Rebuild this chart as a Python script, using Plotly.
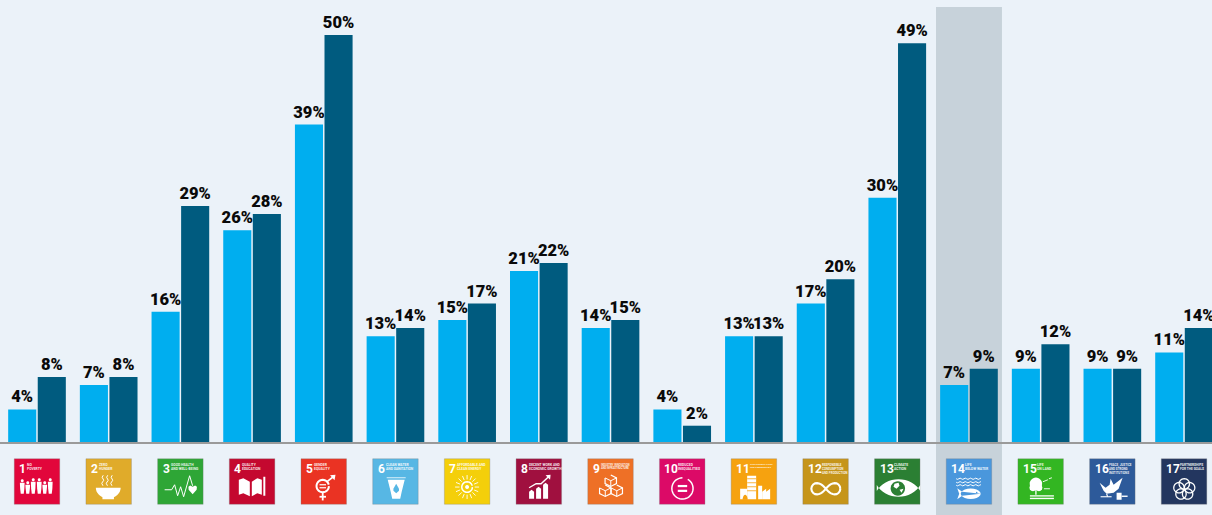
import math
import plotly.graph_objects as go

# Share of respondents per Sustainable Development Goal, two survey waves
goal_numbers = list(range(1, 18))
earlier_wave = [4, 7, 16, 26, 39, 13, 15, 21, 14, 4, 13, 17, 30, 7, 9, 9, 11]
later_wave = [8, 8, 29, 28, 50, 14, 17, 22, 15, 2, 13, 20, 49, 9, 12, 9, 14]
highlighted_goal = 14

goal_captions = [
    "NO<br>POVERTY", "ZERO<br>HUNGER", "GOOD HEALTH<br>AND WELL-BEING",
    "QUALITY<br>EDUCATION", "GENDER<br>EQUALITY", "CLEAN WATER<br>AND SANITATION",
    "AFFORDABLE AND<br>CLEAN ENERGY", "DECENT WORK AND<br>ECONOMIC GROWTH",
    "INDUSTRY, INNOVATION<br>AND INFRASTRUCTURE", "REDUCED<br>INEQUALITIES",
    "SUSTAINABLE CITIES<br>AND COMMUNITIES", "RESPONSIBLE<br>CONSUMPTION<br>AND PRODUCTION",
    "CLIMATE<br>ACTION", "LIFE<br>BELOW WATER", "LIFE<br>ON LAND",
    "PEACE, JUSTICE<br>AND STRONG<br>INSTITUTIONS", "PARTNERSHIPS<br>FOR THE GOALS",
]
goal_colors = [
    "#e2063b", "#e0ab2a", "#2ea636", "#c4082f", "#ea3323", "#57b7e4", "#f4cf0a", "#a0103f", "#ee7026",
    "#dc0a67", "#f6a20f", "#c6951a", "#2b7f33", "#4a97dc", "#33b622", "#2d5a9a", "#23365f",
]

PAGE_W, PAGE_H = 1212, 515
BASELINE = 442
PX_PER_PCT = 8.14
FIRST_CENTRE, GOAL_STEP = 37.0, 71.69
ICON = 45.5
ICON_MID_Y = 481.5
BACKGROUND = "#ebf2f9"
LABEL_FONT = "Roboto"


def circle(cx, cy, r, n=28):
    return [(cx + r * math.cos(2 * math.pi * i / n), cy + r * math.sin(2 * math.pi * i / n)) for i in range(n)]


def box(x0, y0, x1, y1):
    return [(x0, y0), (x1, y0), (x1, y1), (x0, y1)]


def ellipse(cx, cy, rx, ry, a0=0.0, a1=360.0, n=28):
    return [(cx + rx * math.cos(math.radians(a0 + (a1 - a0) * i / n)),
             cy + ry * math.sin(math.radians(a0 + (a1 - a0) * i / n))) for i in range(n + 1)]


W, C = "white", "tile"


def people():
    out = []
    for cx, top in [(8, 22), (13.5, 24), (19, 21), (25, 21), (30.5, 24), (36, 21)]:
        out.append((W, 0, circle(cx, top, 1.5, 10), True))
        out.append((W, 0, [(cx - 2.4, top + 2), (cx + 2.4, top + 2), (cx + 2.1, 35 - 5), (cx + 1.5, 35),
                           (cx - 1.5, 35), (cx - 2.1, 35 - 5)], True))
    return out


def bowl():
    out = [(W, 0, ellipse(22.3, 29, 12.4, 10.5, 0, 180), True), (W, 0, box(16.5, 38, 28, 40.5), True)]
    for x in (17, 21.5, 26):
        out.append((W, 1, [(x, 27), (x - 1.2, 24.5), (x + 0.8, 21.5), (x - 0.8, 18.5), (x + 0.3, 16.5)], False))
    return out


def heartbeat():
    line = [(7, 31), (14, 31), (17, 26), (20, 37), (23, 28), (26, 38), (32, 17), (35, 27)]
    heart = [(30.8, 28), (32.5, 26.8), (35, 28), (37.5, 26.8), (39.3, 28), (39, 31), (35, 35.5), (31, 31)]
    return [(W, 1, line, False), (W, 0, heart, True)]


def book():
    return [
        (W, 0, [(9.5, 21), (14, 19.5), (20.5, 23), (20.5, 37.5), (14, 34.5), (9.5, 36)], True),
        (W, 0, [(22.5, 23), (28, 19.5), (32.5, 21), (32.5, 36), (28, 34.5), (22.5, 37.5)], True),
        (W, 0, box(34, 18, 36, 37), True),
    ]


def gender():
    return [
        (W, 2, circle(21.7, 27.3, 6.2), False),
        (W, 1.8, [(21.7, 33.5), (21.7, 41.7)], False),
        (W, 1.8, [(18.5, 38), (25, 38)], False),
        (W, 1.6, [(26, 22.8), (33, 17.5)], False),
        (W, 0, [(29, 16.5), (34.5, 16), (33.5, 21.5)], True),
        (W, 1.2, [(18.5, 26), (25, 26)], False),
        (W, 1.2, [(18.5, 29), (25, 29)], False),
    ]


def water():
    return [
        (W, 0.8, [(14, 19), (33, 19)], False),
        (W, 0, [(15, 21), (32, 21), (29, 33), (27.5, 40), (19.5, 40), (18, 33)], True),
        (C, 0, [(23.5, 25), (26.3, 30), (26.3, 32), (23.5, 34.5), (20.7, 32), (20.7, 30)], True),
    ]


def sun():
    out = [(W, 1.5, circle(22.7, 28.3, 5.3), False), (W, 0, circle(22.7, 28.3, 2, 12), True)]
    for i in range(16):
        a = 2 * math.pi * i / 16
        out.append((W, 0.9, [(22.7 + 7.6 * math.cos(a), 28.3 + 7.6 * math.sin(a)),
                             (22.7 + 12 * math.cos(a), 28.3 + 12 * math.sin(a))], False))
    return out


def growth():
    out = []
    for x0, top in [(13, 33), (20, 30), (27, 26)]:
        out.append((W, 0, [(x0, 40), (x0, top), (x0 + 2.5, top - 2), (x0 + 5, top), (x0 + 5, 40)], True))
    out.append((W, 1.4, [(13, 29), (20, 25), (25, 25), (33, 17.5)], False))
    out.append((W, 0, [(29.5, 16.5), (34.5, 16), (34, 21)], True))
    return out


def cubes():
    out = []
    for cx, cy in [(23, 22), (17.5, 32), (29, 32)]:
        r = 5.7
        hexagon = [(cx, cy - r), (cx + r, cy - r / 2), (cx + r, cy + r / 2), (cx, cy + r), (cx - r, cy + r / 2),
                   (cx - r, cy - r / 2)]
        out.append((W, 1.2, hexagon, False))
        out.append((W, 1.0, [(cx - r, cy - r / 2), (cx, cy), (cx + r, cy - r / 2)], False))
        out.append((W, 1.0, [(cx, cy), (cx, cy + r)], False))
    return out


def equal_ring():
    return [
        (W, 1.5, ellipse(23, 29.7, 10.6, 10.6, -60, 270, 36), False),
        (W, 0, box(18.3, 26.2, 27.7, 28.4), True),
        (W, 0, box(18.3, 31, 27.7, 33.2), True),
    ]


def city():
    out = [(W, 0, box(16, 17, 25, 40.5), True), (W, 0, box(9, 30, 16, 40.5), True), (W, 0, box(27, 27, 31, 40.5), True),
           (W, 0, [(31, 40.5), (31, 33), (35, 30), (35, 33), (39, 30), (39, 40.5)], True)]
    for y in (20, 24, 28, 32):
        out.append((C, 0.8, [(16, y), (25, y)], False))
    out.append((C, 0, ellipse(14, 41, 2.5, 5, 180, 360, 10), True))
    return out


def infinity():
    pts = []
    for i in range(41):
        t = 2 * math.pi * i / 40
        d = 1 + math.sin(t) ** 2
        pts.append((23 + 14.5 * math.cos(t) / d, 30 + 16 * math.sin(t) * math.cos(t) / d))
    return [(W, 2.1, pts, False)]


def eye():
    upper = ellipse(24, 41, 24, 20.5, 205, 335, 16)
    lower = ellipse(24, 17.5, 24, 20.5, 25, 155, 16)
    return [
        (W, 0, upper + lower, True),
        (C, 0, circle(23.3, 29.7, 7.2), True),
        (W, 0, [(20, 25), (24, 24), (25, 27), (22, 30), (19, 28)], True),
        (W, 0, [(25, 31), (29, 30), (27, 34)], True),
    ]


def fish():
    out = []
    for y in (20, 23.5, 26.5):
        pts = [(10 + i * 1.3, y + 0.6 * math.sin(i * 1.57)) for i in range(20)]
        out.append((W, 1.0, pts, False))
    out.append((W, 0, ellipse(24.5, 35, 10, 5.2, 0, 360, 20) + [(16, 33), (11, 29.5), (13, 35), (11, 40.5), (16, 37)], True))
    out.append((C, 0, circle(30.5, 33.8, 0.8, 8), True))
    return out


def tree():
    return [
        (W, 0, circle(18, 25, 6.2), True),
        (W, 0, circle(15, 29, 3.5, 12), True),
        (W, 0, circle(21, 29, 3.5, 12), True),
        (W, 1.3, [(18, 27), (18, 36)], False),
        (W, 0.9, [(25, 23), (30, 21)], False),
        (W, 0.9, [(31, 20), (34, 19)], False),
        (W, 0.9, [(26, 30), (32, 30)], False),
        (W, 0, box(12, 36.5, 36, 37.8), True),
        (W, 0, box(12, 39, 36, 40.4), True),
    ]


def dove():
    return [
        (W, 0, [(10, 24), (16, 29), (20, 26), (21, 20), (24, 26), (33, 19), (29, 30), (24, 34), (17, 35), (14, 32)], True),
        (W, 1.1, [(11, 38), (22, 38)], False),
        (W, 1.1, [(17, 35), (18, 38)], False),
        (W, 0, box(27, 34, 32, 41), True),
        (W, 1.4, [(32, 37.5), (38, 37.5)], False),
    ]


def flower():
    out = []
    for i in range(5):
        a = -math.pi / 2 + 2 * math.pi * i / 5
        out.append((W, 1.3, circle(23 + 5.6 * math.cos(a), 30.7 + 5.6 * math.sin(a), 5.2), True))
    return out


glyphs = [people, bowl, heartbeat, book, gender, water, sun, growth, cubes, equal_ring, city, infinity, eye, fish,
          tree, dove, flower]

shapes, annotations = [], []
goal_x = lambda px: 1 + (px - FIRST_CENTRE) / GOAL_STEP
paper_y = lambda px: (BASELINE - px) / BASELINE


def to_path(points, closed):
    # Tile-local pixels, y downwards, become offsets from the tile centre, y upwards
    parts = [f"{'M' if i == 0 else 'L'}{x - ICON / 2:.2f},{ICON / 2 - y:.2f}" for i, (x, y) in enumerate(points)]
    return " ".join(parts) + (" Z" if closed else "")


def pixel_shape(goal, path, **style):
    return dict(type="path", xref="x", yref="paper", xsizemode="pixel", ysizemode="pixel",
                xanchor=goal, yanchor=paper_y(ICON_MID_Y), path=path, layer="above", **style)


def caption_size(caption, room):
    # Long goal names shrink so that they stay inside their tile
    longest = max(len(part) for part in caption.split("<br>"))
    return min(3.4, room / (longest * 0.62))


# Tinted band behind the highlighted goal
shapes.append(dict(type="rect", xref="x", yref="paper", x0=highlighted_goal - 0.46, x1=highlighted_goal + 0.46,
                   y0=paper_y(PAGE_H), y1=paper_y(7), fillcolor="#c7d2da", line_width=0, layer="below"))

for goal, caption, color, glyph in zip(goal_numbers, goal_captions, goal_colors, glyphs):
    shapes.append(pixel_shape(goal, to_path(box(0, 0, ICON, ICON), True), fillcolor=color,
                              line=dict(color="rgba(120,120,120,0.5)", width=0.6)))
    for ink, width, points, filled in glyph():
        ink_color = "white" if ink == W else color
        if filled and width == 0:
            shapes.append(pixel_shape(goal, to_path(points, True), fillcolor=ink_color, line_width=0))
        else:
            shapes.append(pixel_shape(goal, to_path(points, filled), line=dict(color=ink_color, width=width)))
    caption_left = 18 if goal >= 10 else 12
    annotations.append(dict(
        text=f"<b>{goal}</b>", xref="x", yref="paper", x=goal, y=paper_y(ICON_MID_Y),
        xshift=4 - ICON / 2, yshift=ICON / 2 - 2, xanchor="left", yanchor="top",
        showarrow=False, borderpad=0, font=dict(family=LABEL_FONT, size=12, color="white"),
    ))
    annotations.append(dict(
        text=caption, xref="x", yref="paper", x=goal, y=paper_y(ICON_MID_Y),
        xshift=caption_left - ICON / 2, yshift=ICON / 2 - 3, xanchor="left",
        yanchor="top", align="left", showarrow=False, borderpad=0,
        font=dict(family=LABEL_FONT, size=caption_size(caption, ICON - caption_left - 1.5),
                  color="rgba(255,255,255,0.9)", weight="bold"),
    ))

fig = go.Figure()
for name, values, color in [("Earlier wave", earlier_wave, "#00aeef"), ("Later wave", later_wave, "#005b7f")]:
    fig.add_trace(go.Bar(
        name=name, x=goal_numbers, y=values, marker=dict(color=color, line_width=0),
        texttemplate="%{y}%", textposition="outside", constraintext="none", cliponaxis=False,
        textfont=dict(family=LABEL_FONT, size=16.5, color="#0a0a0a", weight=900),
    ))

fig.update_layout(
    width=PAGE_W, height=PAGE_H, margin=dict(l=0, r=0, t=0, b=PAGE_H - BASELINE, pad=0), autosize=False,
    paper_bgcolor=BACKGROUND, plot_bgcolor="rgba(0,0,0,0)", showlegend=False,
    barmode="group", bargap=0.175, bargroupgap=0.05, shapes=shapes, annotations=annotations,
    xaxis=dict(range=[goal_x(0), goal_x(PAGE_W)], showgrid=False, zeroline=False, showticklabels=False, ticks="",
               showline=True, linecolor="#9a9a9a", linewidth=1.5),
    yaxis=dict(range=[0, BASELINE / PX_PER_PCT], visible=False, showgrid=False, zeroline=False),
)
fig.write_html("out.html", config=dict(displayModeBar=False))
